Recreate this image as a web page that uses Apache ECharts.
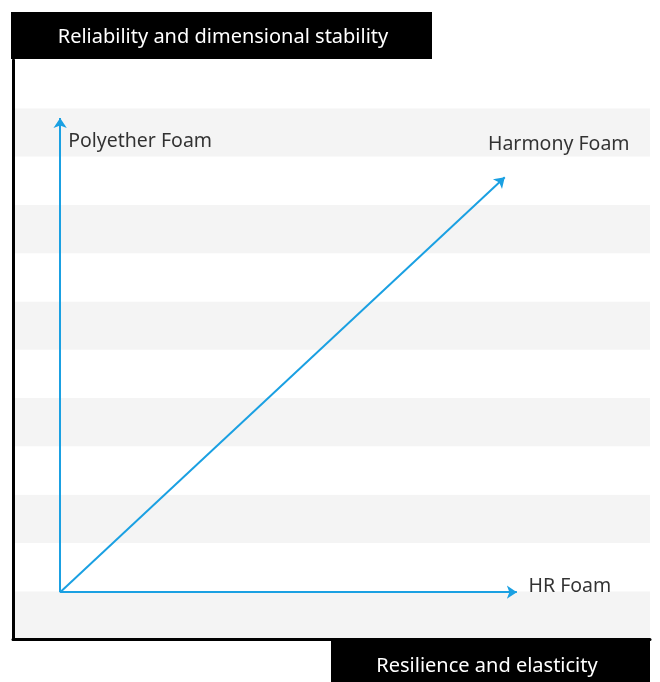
<!DOCTYPE html>
<html>
<head>
<meta charset="utf-8">
<script src="https://cdn.jsdelivr.net/npm/echarts@6/dist/echarts.min.js"></script>
<style>
    html, body { margin: 0; padding: 0; background: #fff; }
    #chart { width: 660px; height: 682px; }
</style>
</head>
<body>
<div id="chart"></div>
<script>
// axis labels
const yTitle = "Reliability and dimensional stability";
const xTitle = "Resilience and elasticity";

// arrows: start and end (x in 0..100, y in 0..12)
const origin = [7.4, 0.98];
const foamNames = ["Polyether Foam", "Harmony Foam", "HR Foam"];
const foamTips = [[7.4, 10.8], [77.2, 9.57], [79.1, 0.98]];
// label offsets from arrow tips
const labelOffsets = [[80, 23], [54, -33], [53, -6]];

const fontFamily = "'Noto Sans', sans-serif";
const blue = "#1aa0e2";

const chart = echarts.init(document.getElementById("chart"));

const option = {
    animation: false,
    grid: { left: 13, right: 10, top: 60, bottom: 42.5 },
    xAxis: {
        type: "value",
        min: 0,
        max: 100,
        axisLine: { show: true, lineStyle: { color: "#000", width: 3 } },
        axisTick: { show: false },
        axisLabel: { show: false },
        splitLine: { show: false },
    },
    yAxis: {
        type: "value",
        min: 0,
        max: 12,
        interval: 1,
        axisLine: { show: true, lineStyle: { color: "#000", width: 3 } },
        axisTick: { show: false },
        axisLabel: { show: false },
        splitLine: { show: false },
        splitArea: { show: true, areaStyle: { color: ["#f4f4f4", "#ffffff"] } },
    },
    graphic: [
        {
            type: "group",
            left: 11,
            top: 12,
            children: [
                { type: "rect", shape: { x: 0, y: 0, width: 421, height: 47 }, style: { fill: "#000" } },
                {
                    type: "text",
                    x: 212,
                    y: 25,
                    style: { text: yTitle, fill: "#fff", font: "20px " + fontFamily, align: "center", verticalAlign: "middle" },
                },
            ],
        },
        {
            type: "group",
            left: 331,
            top: 641,
            children: [
                { type: "rect", shape: { x: 0, y: 0, width: 319, height: 41 }, style: { fill: "#000" } },
                {
                    type: "text",
                    x: 156,
                    y: 25,
                    style: { text: xTitle, fill: "#fff", font: "20px " + fontFamily, align: "center", verticalAlign: "middle" },
                },
            ],
        },
    ],
    series: [
        {
            type: "lines",
            coordinateSystem: "cartesian2d",
            symbol: ["none", "arrow"],
            symbolSize: 10,
            lineStyle: { color: blue, width: 2, opacity: 1 },
            data: foamTips.map((tip) => ({ coords: [origin, tip] })),
            z: 3,
        },
        {
            type: "scatter",
            symbolSize: 0,
            itemStyle: { color: "#000" },
            data: foamTips.map((tip, i) => ({
                value: tip,
                name: foamNames[i],
                label: { offset: labelOffsets[i] },
            })),
            label: {
                show: true,
                position: "inside",
                formatter: (p) => p.name,
                color: "#000",
                textBorderWidth: 0,
                fontSize: 19.5,
                fontFamily: fontFamily,
            },
            silent: true,
            z: 4,
        },
    ],
};

chart.setOption(option);
</script>
</body>
</html>
